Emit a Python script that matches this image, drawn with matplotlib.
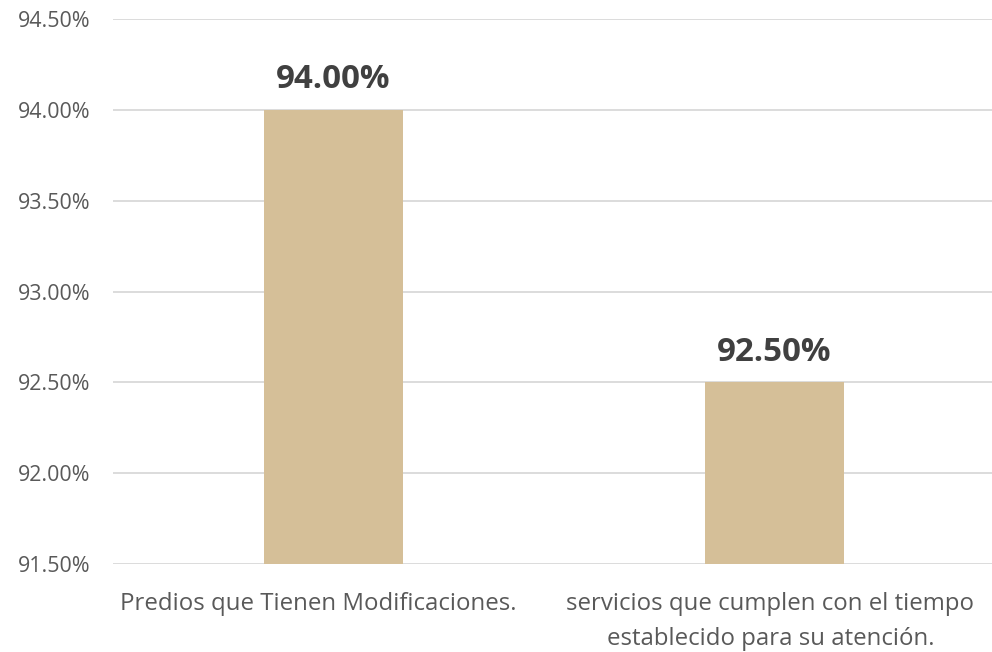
import numpy as np
import matplotlib.pyplot as plt
import matplotlib.transforms as mtransforms
from matplotlib.ticker import FuncFormatter, MultipleLocator

categorias = ['Predios que Tienen Modificaciones.',
              'servicios que cumplen con el tiempo\nestablecido para su atención.']
valores = [94.00, 92.50]

plt.rcParams['font.family'] = ['Open Sans', 'DejaVu Sans']

fig = plt.figure(figsize=(9.92, 6.52), dpi=100)
ax = fig.add_axes([113/992, 88/652, 882/992, 545/652])

x = np.arange(len(categorias))
ax.bar(x, valores, width=0.315, color='#D5BF98', zorder=2)

ax.set_ylim(91.5, 94.5)
ax.set_xlim(-0.5, 1.5)
ax.yaxis.set_major_locator(MultipleLocator(0.5))
ax.yaxis.set_major_formatter(FuncFormatter(lambda v, p: f'{v:.2f}%'))
ax.grid(axis='y', color='#D9D9D9', linewidth=1.3, zorder=0)
for s in ax.spines.values():
    s.set_visible(False)
ax.tick_params(axis='both', length=0, labelcolor='#595959')
ax.tick_params(axis='y', labelsize=15.4, pad=16.5)
ax.tick_params(axis='x', pad=20)

ax.set_xticks(x)
ax.set_xticklabels(categorias, fontsize=17.3, linespacing=1.6)

# correr las etiquetas un poco a la izquierda, como las deja Excel
for lbl, dx in zip(ax.get_xticklabels(), [-15, -4]):
    lbl.set_transform(lbl.get_transform() +
                      mtransforms.ScaledTranslation(dx/100, 0, fig.dpi_scale_trans))

for xi, v in zip(x, valores):
    ax.annotate(f'{v:.2f}%', (xi, v), xytext=(0, 21.5), textcoords='offset points',
                ha='center', va='center', fontsize=23.8, fontweight='bold', color='#404040')

plt.savefig('out.png', dpi=100)
